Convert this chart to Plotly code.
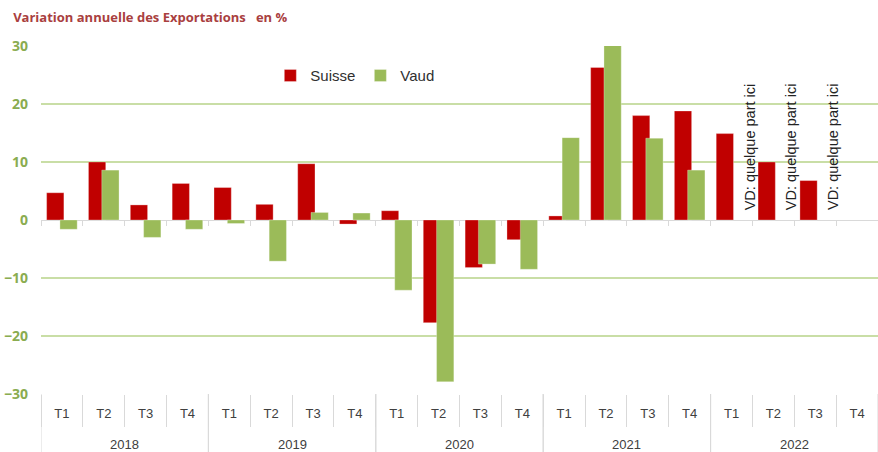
import plotly.graph_objects as go

years = ["2018"] * 4 + ["2019"] * 4 + ["2020"] * 4 + ["2021"] * 4 + ["2022"] * 4
quarters = ["T1", "T2", "T3", "T4"] * 5

suisse = [4.7, 10.0, 2.6, 6.3,
          5.6, 2.7, 9.7, -0.7,
          1.6, -17.7, -8.2, -3.4,
          0.7, 26.3, 18.0, 18.8,
          14.9, 10.0, 6.8, None]
vaud = [-1.6, 8.6, -3.0, -1.6,
        -0.6, -7.1, 1.3, 1.2,
        -12.1, -27.9, -7.6, -8.5,
        14.2, 31.0, 14.1, 8.6,
        None, None, None, None]

note_text = "VD: quelque part ici"
note_idx = [16, 17, 18]

RED = "#c00000"
GREEN = "#9bbb59"
AXIS_GREY = "#d9d9d9"

Y_MIN, Y_MAX = -30, 30
pos = list(range(len(quarters)))
unique_years = list(dict.fromkeys(years))
x_range = [-0.5, len(quarters) - 0.5]

fig = go.Figure()
fig.add_trace(go.Bar(x=pos, y=suisse, name="Suisse",
                     marker=dict(color=RED, line=dict(color="rgba(255,255,255,0.5)", width=0.6)),
                     width=0.413, offset=-0.366))
fig.add_trace(go.Bar(x=pos, y=vaud, name="Vaud",
                     marker=dict(color=GREEN, line=dict(color="rgba(255,255,255,0.5)", width=0.6)),
                     width=0.413, offset=-0.048))
# empty helper trace so the zero-line tick axis is drawn
fig.add_trace(go.Scatter(x=[], y=[], xaxis="x2", yaxis="y", showlegend=False,
                         hoverinfo="skip"))

for i in note_idx:
    fig.add_annotation(x=i + 0.44, y=1.4, xref="x", yref="y", text=note_text,
                       textangle=-90, showarrow=False, xanchor="center", yanchor="bottom",
                       font=dict(family="Liberation Sans", size=14.5, color="#222222"))

# year labels and year dividers below the quarter row
for k, yr in enumerate(unique_years):
    idx = [j for j, v in enumerate(years) if v == yr]
    fig.add_annotation(x=sum(idx) / len(idx), y=-50 / 348, xref="x", yref="paper",
                       text=yr, showarrow=False, xanchor="center", yanchor="middle",
                       font=dict(family="Liberation Sans", size=13, color="#404040"))
    for b in (min(idx) - 0.5, max(idx) + 0.5):
        fig.add_shape(type="line", x0=b, x1=b, y0=0, y1=-58 / 348, xref="x", yref="paper",
                      line=dict(color=AXIS_GREY, width=1), layer="below")

fig.update_layout(
    width=878, height=452,
    margin=dict(l=41, r=0, t=46, b=58),
    paper_bgcolor="white", plot_bgcolor="white",
    barmode="overlay",
    font=dict(family="Liberation Sans", color="#404040"),
    title=dict(text="<b>Variation annuelle des Exportations   en %</b>",
               x=0.015, xanchor="left", y=0.962, yanchor="middle",
               font=dict(family="Open Sans", size=13, color="#a94040")),
    legend=dict(orientation="h", x=0.274, xanchor="left", y=0.962, yanchor="top",
                font=dict(size=15, color="#303030"), bgcolor="rgba(0,0,0,0)",
                traceorder="normal"),
    showlegend=True,
    xaxis=dict(range=x_range, showgrid=False, zeroline=False,
               tickmode="array", tickvals=pos, ticktext=quarters, ticks="",
               tickfont=dict(family="Liberation Sans", size=13, color="#404040"),
               ticklabelstandoff=10,
               minor=dict(ticks="outside", tick0=-0.5, dtick=1, ticklen=32,
                          tickcolor=AXIS_GREY, tickwidth=1, showgrid=False),
               showline=False, automargin=False, fixedrange=True),
    # small category ticks along the zero line
    xaxis2=dict(overlaying="x", anchor="free", position=(0 - Y_MIN) / (Y_MAX - Y_MIN),
                range=x_range, showticklabels=False, showgrid=False,
                zeroline=False, showline=False, ticks="", fixedrange=True, automargin=False,
                minor=dict(ticks="outside", tick0=-0.5, dtick=1, ticklen=5,
                           tickcolor=AXIS_GREY, tickwidth=1, showgrid=False)),
    yaxis=dict(range=[Y_MIN, Y_MAX], dtick=10, showgrid=True, gridcolor="#c9dea6", gridwidth=2,
               zeroline=True, zerolinecolor=AXIS_GREY, zerolinewidth=1,
               tickfont=dict(family="Open Sans", size=14, color="#8aac50", weight="bold"),
               ticklabelstandoff=12, fixedrange=True, automargin=False),
)

fig.write_html("out.html", config={"displayModeBar": False},
               post_script="document.body.style.margin='0';document.body.style.padding='0';")
